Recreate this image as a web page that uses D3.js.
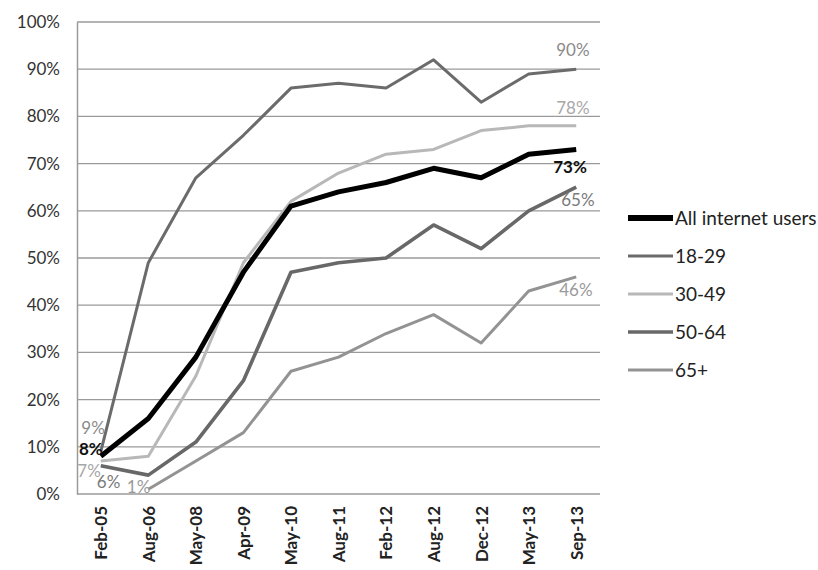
<!DOCTYPE html>
<html>
<head>
<meta charset="utf-8">
<script src="https://cdn.jsdelivr.net/npm/d3@7"></script>
<style>
  body { margin: 0; background: #fff; }
  svg { display: block; font-family: Lato, "Open Sans", sans-serif; }
</style>
</head>
<body>
<svg id="chart" width="818" height="570"></svg>
<script>
// Survey dates
const categories = ["Feb-05", "Aug-06", "May-08", "Apr-09", "May-10", "Aug-11",
                    "Feb-12", "Aug-12", "Dec-12", "May-13", "Sep-13"];

// Share of internet users in each group (percent); null = not surveyed
const allUsers = [8, 16, 29, 47, 61, 64, 66, 69, 67, 72, 73];
const age18to29 = [9, 49, 67, 76, 86, 87, 86, 92, 83, 89, 90];
const age30to49 = [7, 8, 25, 49, 62, 68, 72, 73, 77, 78, 78];
const age50to64 = [6, 4, 11, 24, 47, 49, 50, 57, 52, 60, 65];
const age65plus = [null, 1, 7, 13, 26, 29, 34, 38, 32, 43, 46];

const seriesNames = ["All internet users", "18-29", "30-49", "50-64", "65+"];
const yTicks = [0, 10, 20, 30, 40, 50, 60, 70, 80, 90, 100];

const seriesValues = [allUsers, age18to29, age30to49, age50to64, age65plus];

const styles = [
  { color: "#000000", width: 5,   labelColor: "#111", bold: true },
  { color: "#6b6b6b", width: 3,   labelColor: "#8a8a8a" },
  { color: "#b8b8b8", width: 3,   labelColor: "#a8a8a8" },
  { color: "#686868", width: 3.6, labelColor: "#7a7a7a" },
  { color: "#939393", width: 3,   labelColor: "#9a9a9a" }
];

// Offsets of the first / last value labels relative to their point
const startLabels = [
  { dx: 2,  dy: -1,  anchor: "end" },
  { dx: 4,  dy: -18, anchor: "end" },
  { dx: 0,  dy: 16,  anchor: "end" },
  { dx: -4, dy: 22,  anchor: "start" },
  { dx: 2,  dy: 4,   anchor: "end" }
];
const endLabels = [
  { dx: -23, dy: 24 },
  { dx: -20, dy: -13 },
  { dx: -20, dy: -12 },
  { dx: -15, dy: 19 },
  { dx: -17, dy: 19 }
];

const svg = d3.select("#chart");
const margin = { left: 77, right: 600, top: 22, bottom: 494 };

const x = d3.scalePoint()
  .domain(categories)
  .range([margin.left, margin.right])
  .padding(0.5);

const y = d3.scaleLinear()
  .domain([0, 100])
  .range([margin.bottom, margin.top]);

// Horizontal gridlines
svg.append("g")
  .selectAll("line")
  .data(yTicks)
  .join("line")
  .attr("x1", margin.left)
  .attr("x2", margin.right)
  .attr("y1", d => y(d))
  .attr("y2", d => y(d))
  .attr("stroke", "#9a9a9a")
  .attr("stroke-width", 1.3);

// Y axis
const yAxis = svg.append("g")
  .attr("transform", `translate(${margin.left},0)`)
  .call(d3.axisLeft(y).tickValues(yTicks).tickSize(0).tickPadding(17)
    .tickFormat(d => d + "%"));
yAxis.select(".domain").attr("stroke", "#9a9a9a").attr("stroke-width", 1.5);
yAxis.selectAll("text")
  .attr("font-size", 17)
  .attr("fill", "#333")
  .attr("font-family", "Lato, sans-serif");

// X axis
const xAxis = svg.append("g")
  .attr("transform", `translate(0,${margin.bottom})`)
  .call(d3.axisBottom(x).tickSize(0).tickPadding(0));
xAxis.select(".domain").remove();
xAxis.selectAll("text")
  .attr("font-size", 17)
  .attr("font-weight", "bold")
  .attr("fill", "#222")
  .attr("font-family", "Lato, sans-serif")
  .attr("text-anchor", "end")
  .attr("dy", "0.35em")
  .attr("transform", "translate(0,12) rotate(-90)")
  .attr("x", 0)
  .attr("y", 0);

// Lines (drawn from the back: 65+ first, all users last)
const line = d3.line()
  .defined(d => d.v !== null)
  .x(d => x(d.c))
  .y(d => y(d.v));

const drawOrder = [4, 3, 2, 1, 0];
drawOrder.forEach(i => {
  const pts = categories.map((c, j) => ({ c, v: seriesValues[i][j] }));
  svg.append("path")
    .datum(pts)
    .attr("fill", "none")
    .attr("stroke", styles[i].color)
    .attr("stroke-width", styles[i].width)
    .attr("stroke-linejoin", "round")
    .attr("d", line);
});

// First / last value labels
seriesValues.forEach((vals, i) => {
  const defined = categories.map((c, j) => ({ c, v: vals[j] })).filter(d => d.v !== null);
  const first = defined[0];
  const last = defined[defined.length - 1];
  const items = [
    [first, startLabels[i].dx, startLabels[i].dy, startLabels[i].anchor],
    [last, endLabels[i].dx, endLabels[i].dy, "start"]
  ];
  items.forEach(([d, dx, dy, anchor]) => {
    svg.append("text")
      .attr("x", x(d.c) + dx)
      .attr("y", y(d.v) + dy)
      .attr("text-anchor", anchor)
      .attr("font-size", 17)
      .attr("font-weight", styles[i].bold ? "bold" : "normal")
      .attr("fill", styles[i].labelColor)
      .text(d.v + "%");
  });
});

// Legend
const legend = svg.append("g").attr("transform", "translate(628,218)");
seriesNames.forEach((name, i) => {
  const row = legend.append("g").attr("transform", `translate(0,${i * 38})`);
  row.append("line")
    .attr("x1", 0).attr("x2", 45)
    .attr("y1", 0).attr("y2", 0)
    .attr("stroke", styles[i].color)
    .attr("stroke-width", i === 0 ? 6 : styles[i].width);
  row.append("text")
    .attr("x", 47)
    .attr("y", 0)
    .attr("dy", "0.35em")
    .attr("font-size", 19)
    .attr("fill", "#222")
    .text(name);
});
</script>
</body>
</html>
